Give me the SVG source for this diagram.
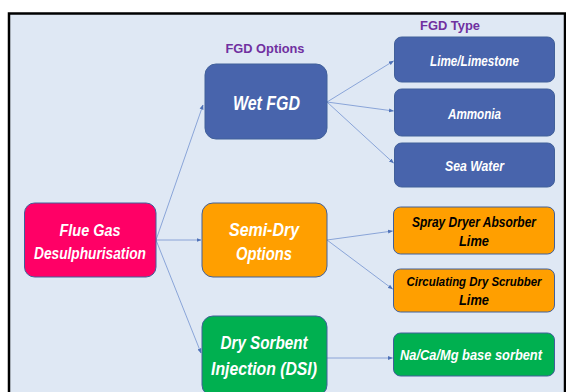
<svg xmlns="http://www.w3.org/2000/svg" width="566" height="392" viewBox="0 0 566 392">
<defs>
<marker id="ah" viewBox="0 0 10 10" refX="9" refY="5" markerWidth="5" markerHeight="5" markerUnits="userSpaceOnUse" orient="auto">
<path d="M0,1 L10,5 L0,9 z" fill="#4f72b8"/>
</marker>
<style>
.c{stroke:#7393d0;stroke-width:0.8;fill:none;marker-end:url(#ah)}
.n{stroke:#41609a;stroke-width:1}
.t{font-family:"Liberation Sans",Arial,sans-serif;font-weight:bold;font-style:italic;text-anchor:middle;dominant-baseline:central}
.w{fill:#ffffff}
.k{fill:#000000}
.h{font-family:"Liberation Sans",Arial,sans-serif;font-weight:bold;fill:#7030a0;text-anchor:middle;font-size:12px}
</style>
</defs>
<rect x="0" y="0" width="566" height="392" fill="#ffffff"/>
<rect x="9" y="13.5" width="556" height="380" fill="#dfe8f4" stroke="#000" stroke-width="2.5"/>
<text class="h" x="265" y="53" textLength="79" lengthAdjust="spacingAndGlyphs">FGD Options</text>
<text class="h" x="450" y="30" textLength="60" lengthAdjust="spacingAndGlyphs">FGD Type</text>
<g id="connectors">
<line class="c" x1="156" y1="240" x2="203" y2="105"/>
<line class="c" x1="156" y1="240" x2="201" y2="240"/>
<line class="c" x1="156" y1="240" x2="201" y2="353"/>
<line class="c" x1="327" y1="102" x2="393.5" y2="61"/>
<line class="c" x1="327" y1="102" x2="393.5" y2="111"/>
<line class="c" x1="327" y1="102" x2="393.5" y2="163"/>
<line class="c" x1="327" y1="240" x2="392.5" y2="231"/>
<line class="c" x1="327" y1="240" x2="392.5" y2="289"/>
<line class="c" x1="327" y1="358" x2="392.5" y2="358"/>
</g>
<g id="flue-gas">
<rect class="n" x="24.5" y="203" width="131.5" height="74" rx="10" fill="#ff0066"/>
<text class="t w" x="90" y="230" font-size="16" textLength="61" lengthAdjust="spacingAndGlyphs">Flue Gas</text>
<text class="t w" x="90" y="253" font-size="16" textLength="112" lengthAdjust="spacingAndGlyphs">Desulphurisation</text>
</g>
<g id="wet-fgd">
<rect class="n" x="205" y="64" width="122" height="75" rx="11" fill="#4864ac"/>
<text class="t w" x="266.5" y="103" font-size="20" textLength="67" lengthAdjust="spacingAndGlyphs">Wet FGD</text>
</g>
<g id="semi-dry">
<rect class="n" x="202" y="203" width="125" height="74" rx="11" fill="#ff9f00"/>
<text class="t w" x="264" y="229" font-size="19" textLength="70" lengthAdjust="spacingAndGlyphs">Semi-Dry</text>
<text class="t w" x="264" y="253" font-size="19" textLength="56" lengthAdjust="spacingAndGlyphs">Options</text>
</g>
<g id="dsi">
<rect class="n" x="202" y="316" width="125" height="80" rx="11" fill="#00b050"/>
<text class="t w" x="264" y="342" font-size="19" textLength="87" lengthAdjust="spacingAndGlyphs">Dry Sorbent</text>
<text class="t w" x="264" y="368" font-size="19" textLength="106" lengthAdjust="spacingAndGlyphs">Injection (DSI)</text>
</g>
<g id="lime-limestone">
<rect class="n" x="394.5" y="37" width="160" height="45" rx="7" fill="#4864ac"/>
<text class="t w" x="474.5" y="61" font-size="14" textLength="89" lengthAdjust="spacingAndGlyphs">Lime/Limestone</text>
</g>
<g id="ammonia">
<rect class="n" x="394.5" y="89" width="160" height="47" rx="7" fill="#4864ac"/>
<text class="t w" x="474.5" y="113.5" font-size="14" textLength="53" lengthAdjust="spacingAndGlyphs">Ammonia</text>
</g>
<g id="sea-water">
<rect class="n" x="394.5" y="143" width="160" height="44" rx="7" fill="#4864ac"/>
<text class="t w" x="474.5" y="166" font-size="14" textLength="59" lengthAdjust="spacingAndGlyphs">Sea Water</text>
</g>
<g id="spray-dryer">
<rect class="n" x="393.5" y="207" width="161" height="47" rx="7" fill="#ff9f00"/>
<text class="t k" x="474" y="222" font-size="14" textLength="124" lengthAdjust="spacingAndGlyphs">Spray Dryer Absorber</text>
<text class="t k" x="474" y="241" font-size="14" textLength="30" lengthAdjust="spacingAndGlyphs">Lime</text>
</g>
<g id="circulating">
<rect class="n" x="393.5" y="269" width="161" height="43" rx="7" fill="#ff9f00"/>
<text class="t k" x="474" y="282" font-size="12.5" textLength="135" lengthAdjust="spacingAndGlyphs">Circulating Dry Scrubber</text>
<text class="t k" x="474" y="300" font-size="14" textLength="30" lengthAdjust="spacingAndGlyphs">Lime</text>
</g>
<g id="sorbent">
<rect class="n" x="393.5" y="333" width="161" height="43" rx="7" fill="#00b050"/>
<text class="t w" x="471" y="354.5" font-size="14" font-weight="normal" textLength="142" lengthAdjust="spacingAndGlyphs">Na/Ca/Mg base sorbent</text>
</g>
</svg>
